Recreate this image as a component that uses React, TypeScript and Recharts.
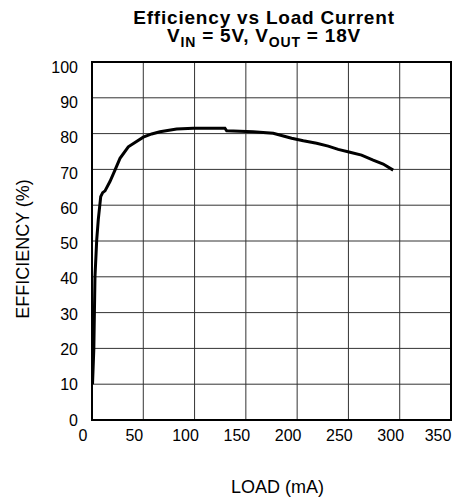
import React from "react";
import {
  LineChart,
  Line,
  CartesianGrid,
  XAxis,
  YAxis,
  ReferenceArea,
  Label,
} from "recharts";

// load current (mA) and efficiency (%)
const loadMa = [
  0.5, 1.8, 2.9, 4.6, 6.1, 8.5, 10.4, 12.7, 17.5, 22.4, 27.3, 35.4, 41.9, 50,
  58.2, 66.3, 82.5, 98.7, 129.6, 131.3, 157, 176.7, 194.6, 206, 219, 230.3, 240,
  251.5, 262.8, 274.1, 283.9, 293.6,
];
const efficiency = [
  10, 20, 40, 50.3, 55.9, 62.4, 63.5, 64, 66.6, 69.8, 73.1, 76.3, 77.5, 79,
  79.9, 80.5, 81.3, 81.5, 81.5, 80.8, 80.5, 80.1, 78.7, 78, 77.3, 76.5, 75.6,
  74.8, 74, 72.6, 71.5, 69.8,
];
const xTicks = [0, 50, 100, 150, 200, 250, 300, 350];
const yTicks = [0, 10, 20, 30, 40, 50, 60, 70, 80, 90, 100];

const data = loadMa.map((load, i) => ({ load, eff: efficiency[i] }));

const FONT = "'Liberation Sans', Arial, Helvetica, sans-serif";

const XTick = (props: any) => {
  const { x, y, payload } = props;
  return (
    <text x={x - 9} y={y} dy="0.71em" textAnchor="middle" fontSize={16} fill="#000" fontFamily={FONT}>
      {payload.value}
    </text>
  );
};

// labels sit a little lower than their grid line, more so near the top
const YTick = (props: any) => {
  const { x, y, payload } = props;
  const shift = (payload.value / 100) * 5;
  return (
    <text x={x} y={y + shift} dy="0.355em" textAnchor="end" fontSize={16} fill="#000" fontFamily={FONT}>
      {payload.value}
    </text>
  );
};

const App = () => {
  return (
    <div style={{ position: "absolute", left: 0, top: 0, width: 459, height: 497 }}>
      <svg width={459} height={497} style={{ position: "absolute", left: 0, top: 0 }}>
        <text x={264} y={23.5} textAnchor="middle" fontSize={19} fontWeight="bold" letterSpacing={0.8} fontFamily={FONT}>
          Efficiency vs Load Current
        </text>
        <text x={264} y={41.7} textAnchor="middle" fontSize={19} fontWeight="bold" letterSpacing={0.8} fontFamily={FONT}>
          <tspan>V</tspan>
          <tspan fontSize={14} dy={5}>IN</tspan>
          <tspan dy={-5}> = 5V, V</tspan>
          <tspan fontSize={14} dy={5}>OUT</tspan>
          <tspan dy={-5}> = 18V</tspan>
        </text>
      </svg>
      <div style={{ position: "absolute", left: 0, top: 0 }}>
        <LineChart
          width={459}
          height={497}
          data={data}
          margin={{ top: 62, right: 8, bottom: 47, left: 0 }}
        >
          <CartesianGrid stroke="#333" strokeWidth={1} />
          <XAxis
            dataKey="load"
            type="number"
            domain={[0, 350]}
            ticks={xTicks}
            height={30}
            axisLine={false}
            tickLine={false}
            tickSize={0}
            tickMargin={10}
            tick={<XTick />}
          >
            <Label
              content={({ viewBox }: any) => (
                <text
                  x={viewBox.x + viewBox.width / 2 + 6}
                  y={viewBox.y + 73}
                  textAnchor="middle"
                  fontSize={18}
                  fontFamily={FONT}
                  fill="#000"
                >
                  LOAD (mA)
                </text>
              )}
            />
          </XAxis>
          <YAxis
            type="number"
            domain={[0, 100]}
            ticks={yTicks}
            width={92}
            axisLine={false}
            tickLine={false}
            tickSize={0}
            tickMargin={14}
            tick={<YTick />}
          >
            <Label
              content={({ viewBox }: any) => {
                const cx = 29;
                const cy = viewBox.y + viewBox.height / 2 + 8;
                return (
                  <text
                    x={cx}
                    y={cy}
                    transform={`rotate(-90 ${cx} ${cy})`}
                    textAnchor="middle"
                    fontSize={18}
                    fontFamily={FONT}
                    fill="#000"
                  >
                    EFFICIENCY (%)
                  </text>
                );
              }}
            />
          </YAxis>
          <ReferenceArea
            x1={0}
            x2={350}
            y1={0}
            y2={100}
            fill="none"
            stroke="#000"
            strokeWidth={2}
            ifOverflow="visible"
          />
          <Line
            type="linear"
            dataKey="eff"
            stroke="#000"
            strokeWidth={3}
            dot={false}
            isAnimationActive={false}
          />
        </LineChart>
      </div>
    </div>
  );
};

export default App;
